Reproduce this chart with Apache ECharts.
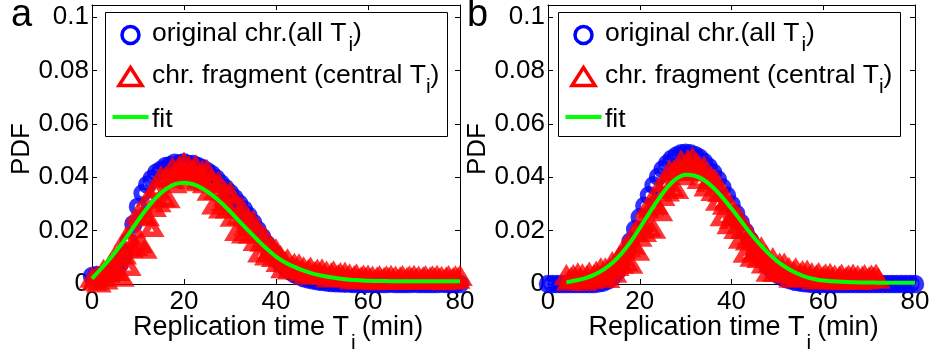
<!DOCTYPE html>
<html>
<head>
<meta charset="utf-8">
<script src="https://cdn.jsdelivr.net/npm/echarts@6/dist/echarts.min.js"></script>
<style>
  html, body { margin: 0; padding: 0; background: #fff; }
  #chart { width: 935px; height: 354px; }
</style>
</head>
<body>
<div id="chart"></div>
<script>
// ---- axes ----
const X_MIN = 0, X_MAX = 80, X_STEP = 20;
const Y_MIN = 0, Y_MAX = 0.1046, Y_STEP = 0.02;
const xTickLabels = ['0', '20', '40', '60', '80'];
const yTickLabels = ['0', '0.02', '0.04', '0.06', '0.08', '0.1'];

// ---- panel a ----
// original chromosome, all replication times (sampled every 1 min from 0)
const origA_t0 = 0, origA_dt = 1;
const origA = [
  0.0030, 0.0034, 0.0030, 0.0036, 0.0045, 0.0055, 0.0075, 0.0110, 0.0160, 0.0225,
  0.0290, 0.0340, 0.0372, 0.0395, 0.0418, 0.0428, 0.0442, 0.0445, 0.0455, 0.0452,
  0.0456, 0.0450, 0.0450, 0.0442, 0.0435, 0.0424, 0.0412, 0.0396, 0.0378, 0.0360,
  0.0342, 0.0322, 0.0302, 0.0280, 0.0257, 0.0230, 0.0203, 0.0176, 0.0150, 0.0125,
  0.0100, 0.0078, 0.0062, 0.0048, 0.0037, 0.0029, 0.0022, 0.0017, 0.0013, 0.0010,
  0.0008, 0.0006, 0.0004, 0.0003, 0.0002, 0.0001, 0.0001, 0.0000, 0.0001, 0.0000,
  0.0000, 0.0001, 0.0000, 0.0000, 0.0000, 0.0001, 0.0000, 0.0000, 0.0000, 0.0000,
  0.0001, 0.0000, 0.0000, 0.0000, 0.0000, 0.0000, 0.0001, 0.0000, 0.0000, 0.0000,
  0.0000
];
// chromosome fragment, central replication times (every 0.5 min from 0)
const fragA_t0 = 0, fragA_dt = 0.5;
const fragA = [
  0.0020, 0.0008, 0.0024, 0.0002, 0.0025, 0.0048, 0.0013, 0.0038, 0.0069, 0.0042,
  0.0100, 0.0045, 0.0108, 0.0023, 0.0107, 0.0173, 0.0064, 0.0132, 0.0204, 0.0139,
  0.0260, 0.0149, 0.0254, 0.0128, 0.0250, 0.0327, 0.0210, 0.0285, 0.0357, 0.0303,
  0.0400, 0.0321, 0.0396, 0.0318, 0.0393, 0.0433, 0.0374, 0.0408, 0.0438, 0.0411,
  0.0450, 0.0409, 0.0438, 0.0389, 0.0422, 0.0440, 0.0381, 0.0398, 0.0420, 0.0374,
  0.0422, 0.0346, 0.0389, 0.0294, 0.0349, 0.0378, 0.0279, 0.0309, 0.0340, 0.0279,
  0.0340, 0.0248, 0.0297, 0.0195, 0.0254, 0.0283, 0.0186, 0.0214, 0.0240, 0.0185,
  0.0232, 0.0157, 0.0192, 0.0114, 0.0155, 0.0173, 0.0103, 0.0120, 0.0135, 0.0097,
  0.0125, 0.0079, 0.0100, 0.0055, 0.0078, 0.0088, 0.0051, 0.0062, 0.0071, 0.0052,
  0.0069, 0.0044, 0.0058, 0.0032, 0.0048, 0.0057, 0.0032, 0.0041, 0.0049, 0.0036,
  0.0050, 0.0031, 0.0042, 0.0021, 0.0035, 0.0043, 0.0022, 0.0029, 0.0036, 0.0025,
  0.0038, 0.0021, 0.0031, 0.0013, 0.0025, 0.0031, 0.0014, 0.0020, 0.0027, 0.0017,
  0.0027, 0.0015, 0.0023, 0.0010, 0.0020, 0.0025, 0.0012, 0.0018, 0.0024, 0.0016,
  0.0026, 0.0015, 0.0023, 0.0011, 0.0020, 0.0025, 0.0012, 0.0018, 0.0024, 0.0016,
  0.0026, 0.0015, 0.0023, 0.0012, 0.0020, 0.0025, 0.0012, 0.0019, 0.0024, 0.0016,
  0.0026, 0.0015, 0.0022, 0.0010, 0.0020, 0.0025, 0.0012, 0.0017, 0.0024, 0.0016,
  0.0026
];
// fitted curve (every 2 min from 0)
const fitA_t0 = 0, fitA_dt = 2;
const fitA = [
  0.0020, 0.0058, 0.0097, 0.0140, 0.0188, 0.0238, 0.0285, 0.0325, 0.0355, 0.0374,
  0.0380, 0.0374, 0.0358, 0.0335, 0.0306, 0.0272, 0.0236, 0.0200, 0.0165, 0.0132,
  0.0103, 0.0081, 0.0064, 0.0050, 0.0039, 0.0031, 0.0025, 0.0020, 0.0016, 0.0014,
  0.0012, 0.0011, 0.0011, 0.0010, 0.0010, 0.0010, 0.0010, 0.0010, 0.0010, 0.0010,
  0.0010
];

// ---- panel b ----
const origB_t0 = 0, origB_dt = 1;
const origB = [
  0.0000, 0.0000, 0.0000, 0.0000, 0.0000, 0.0000, 0.0000, 0.0000, 0.0000, 0.0000,
  0.0000, 0.0002, 0.0005, 0.0012, 0.0025, 0.0045, 0.0075, 0.0115, 0.0160, 0.0205,
  0.0250, 0.0293, 0.0333, 0.0370, 0.0402, 0.0430, 0.0452, 0.0470, 0.0482, 0.0490,
  0.0492, 0.0490, 0.0484, 0.0474, 0.0458, 0.0440, 0.0418, 0.0393, 0.0363, 0.0332,
  0.0298, 0.0264, 0.0230, 0.0197, 0.0165, 0.0136, 0.0110, 0.0087, 0.0067, 0.0050,
  0.0036, 0.0026, 0.0018, 0.0012, 0.0008, 0.0005, 0.0003, 0.0001, 0.0000, 0.0000,
  0.0000, 0.0000, 0.0000, 0.0000, 0.0000, 0.0000, 0.0000, 0.0000, 0.0000, 0.0000,
  0.0000, 0.0000, 0.0000, 0.0000, 0.0000, 0.0000, 0.0000, 0.0000, 0.0000, 0.0000,
  0.0000
];
const fragB_t0 = 4, fragB_dt = 0.5;
const fragB = [
  0.0029, 0.0008, 0.0018, 0.0029, 0.0017, 0.0035, 0.0015, 0.0031, 0.0007, 0.0026,
  0.0038, 0.0014, 0.0028, 0.0042, 0.0027, 0.0054, 0.0028, 0.0054, 0.0019, 0.0053,
  0.0077, 0.0038, 0.0064, 0.0095, 0.0072, 0.0128, 0.0081, 0.0136, 0.0072, 0.0143,
  0.0193, 0.0121, 0.0173, 0.0229, 0.0191, 0.0279, 0.0209, 0.0288, 0.0203, 0.0293,
  0.0351, 0.0269, 0.0326, 0.0380, 0.0343, 0.0421, 0.0359, 0.0421, 0.0352, 0.0421,
  0.0459, 0.0404, 0.0435, 0.0461, 0.0434, 0.0469, 0.0423, 0.0448, 0.0390, 0.0419,
  0.0436, 0.0362, 0.0380, 0.0397, 0.0345, 0.0386, 0.0308, 0.0341, 0.0250, 0.0293,
  0.0313, 0.0220, 0.0240, 0.0261, 0.0202, 0.0249, 0.0166, 0.0202, 0.0113, 0.0159,
  0.0181, 0.0098, 0.0119, 0.0140, 0.0094, 0.0133, 0.0073, 0.0102, 0.0042, 0.0076,
  0.0092, 0.0041, 0.0057, 0.0072, 0.0046, 0.0072, 0.0036, 0.0056, 0.0020, 0.0043,
  0.0054, 0.0022, 0.0034, 0.0044, 0.0027, 0.0045, 0.0022, 0.0036, 0.0012, 0.0028,
  0.0036, 0.0015, 0.0023, 0.0031, 0.0020, 0.0033, 0.0017, 0.0027, 0.0010, 0.0023,
  0.0030, 0.0013, 0.0020, 0.0027, 0.0018, 0.0030, 0.0016, 0.0026, 0.0011, 0.0022,
  0.0029, 0.0013, 0.0020, 0.0027, 0.0018, 0.0030, 0.0016
];
const fitB_t0 = 4, fitB_dt = 2;
const fitB = [
  0.0006, 0.0013, 0.0021, 0.0034, 0.0053, 0.0079, 0.0114, 0.0158, 0.0210, 0.0264,
  0.0316, 0.0362, 0.0395, 0.0410, 0.0406, 0.0390, 0.0362, 0.0325, 0.0283, 0.0238,
  0.0193, 0.0152, 0.0116, 0.0085, 0.0061, 0.0042, 0.0028, 0.0019, 0.0013, 0.0010,
  0.0008, 0.0007, 0.0006, 0.0006, 0.0005, 0.0005, 0.0005, 0.0005, 0.0005
];

// ---- legend / titles ----
const legendOrig = ['original chr.(all T', 'i', ')'];
const legendFrag = ['chr. fragment (central T', 'i', ')'];
const legendFit = 'fit';
const xTitle = ['Replication time T', 'i', '(min)'];
const yTitle = 'PDF';
const panelLetters = ['a', 'b'];

const BLUE = '#0000ff', RED = '#ff0000', GREEN = '#00ff00';
const FONT_FAMILY = '"Liberation Sans", Arial, Helvetica, sans-serif';

function series(t0, dt, ys) {
  return ys.map((y, i) => [t0 + i * dt, y]);
}

const measureCtx = document.createElement('canvas').getContext('2d');
function textW(s, size) {
  measureCtx.font = size + 'px ' + FONT_FAMILY;
  return measureCtx.measureText(s).width;
}
// text placed by its alphabetic baseline
function textEl(s, x, baseline, size, extra) {
  const el = {
    type: 'text', silent: true, z: 20,
    x: x, y: baseline - 0.33 * size,
    style: {
      text: s, font: size + 'px ' + FONT_FAMILY, fill: '#000',
      align: 'left', verticalAlign: 'middle',
      textAlign: 'left', textVerticalAlign: 'middle'
    }
  };
  return Object.assign(el, extra || {});
}
// main text + subscript + trailing text
function subscripted(parts, x, baseline, size, subSize, drop, gapBefore, gapAfter) {
  const w0 = textW(parts[0], size), w1 = textW(parts[1], subSize);
  return [
    textEl(parts[0], x, baseline, size),
    textEl(parts[1], x + w0 + gapBefore, baseline + drop, subSize),
    textEl(parts[2], x + w0 + gapBefore + w1 + gapAfter, baseline, size)
  ];
}
function subscriptedWidth(parts, size, subSize, gapBefore, gapAfter) {
  return textW(parts[0], size) + gapBefore + textW(parts[1], subSize) + gapAfter + textW(parts[2], size);
}

const panels = [
  { left: 92, width: 368, legendLeft: 105,
    orig: series(origA_t0, origA_dt, origA), frag: series(fragA_t0, fragA_dt, fragA), fit: series(fitA_t0, fitA_dt, fitA) },
  { left: 548, width: 367, legendLeft: 558,
    orig: series(origB_t0, origB_dt, origB), frag: series(fragB_t0, fragB_dt, fragB), fit: series(fitB_t0, fitB_dt, fitB) }
];
const GRID_TOP = 5, GRID_H = 279;

const axisLineStyle = { show: true, onZero: false, lineStyle: { color: '#000', width: 1 } };
const tickStyle = { show: true, inside: true, length: 5, lineStyle: { color: '#000', width: 1 } };

const grids = [], xAxes = [], yAxes = [], allSeries = [], graphics = [];

panels.forEach((p, i) => {
  grids.push({ left: p.left, top: GRID_TOP, width: p.width, height: GRID_H, containLabel: false });
  const xBase = { type: 'value', gridIndex: i, min: X_MIN, max: X_MAX, interval: X_STEP,
    axisLine: axisLineStyle, axisTick: tickStyle, splitLine: { show: false } };
  xAxes.push(Object.assign({}, xBase, { position: 'bottom',
    axisLabel: { show: true, margin: 5, color: '#000', fontSize: 26, fontFamily: FONT_FAMILY,
      formatter: v => xTickLabels[Math.round(v / X_STEP)] } }));
  xAxes.push(Object.assign({}, xBase, { position: 'top', axisLabel: { show: false } }));
  const yBase = { type: 'value', gridIndex: i, min: Y_MIN, max: Y_MAX, interval: Y_STEP,
    axisLine: axisLineStyle, axisTick: tickStyle, splitLine: { show: false } };
  yAxes.push(Object.assign({}, yBase, { position: 'left',
    axisLabel: { show: true, margin: 3, color: '#000', fontSize: 26, fontFamily: FONT_FAMILY,
      formatter: v => {
        const k = Math.round(v / Y_STEP);
        return (Math.abs(v - k * Y_STEP) < 1e-9 && yTickLabels[k] !== undefined) ? yTickLabels[k] : '';
      } } }));
  yAxes.push(Object.assign({}, yBase, { position: 'right', axisLabel: { show: false } }));

  const xi = i * 2, yi = i * 2;
  allSeries.push({
    name: 'original chr.', type: 'scatter', xAxisIndex: xi, yAxisIndex: yi, data: p.orig,
    symbol: 'circle', symbolSize: 12.5, clip: false, silent: true, z: 2,
    itemStyle: { color: 'rgba(0,0,0,0)', borderColor: BLUE, borderWidth: 6 }
  });
  allSeries.push({
    name: 'chr. fragment', type: 'scatter', xAxisIndex: xi, yAxisIndex: yi, data: p.frag,
    symbol: 'triangle', symbolSize: [15, 12.5], clip: false, silent: true, z: 3,
    itemStyle: { color: 'rgba(0,0,0,0)', borderColor: RED, borderWidth: 6 }
  });
  allSeries.push({
    name: 'fit', type: 'line', xAxisIndex: xi, yAxisIndex: yi, data: p.fit,
    showSymbol: false, smooth: 0.35, clip: false, silent: true, z: 4,
    lineStyle: { color: GREEN, width: 4 }
  });

  // legend box
  const L = p.legendLeft;
  graphics.push({ type: 'rect', silent: true, z: 10,
    shape: { x: L + 0.5, y: 12.5, width: 342, height: 124 },
    style: { fill: '#fff', stroke: '#000', lineWidth: 1 } });
  const cx = L + 25.5;
  graphics.push({ type: 'circle', silent: true, z: 11,
    shape: { cx: cx, cy: 35, r: 8.5 },
    style: { fill: 'none', stroke: BLUE, lineWidth: 3.5 } });
  graphics.push({ type: 'polygon', silent: true, z: 11,
    shape: { points: [[cx, 67.5], [cx - 11.5, 85.5], [cx + 11.5, 85.5]] },
    style: { fill: 'none', stroke: RED, lineWidth: 3.5, lineJoin: 'miter' } });
  graphics.push({ type: 'line', silent: true, z: 11,
    shape: { x1: L + 7.5, y1: 117, x2: L + 43.5, y2: 117 },
    style: { stroke: GREEN, lineWidth: 4 } });
  const tx = L + 47;
  graphics.push(...subscripted(legendOrig, tx, 42, 26.5, 21, 10, 2, 0));
  graphics.push(...subscripted(legendFrag, tx, 84.5, 26.5, 21, 10, 0, 0));
  graphics.push(textEl(legendFit, tx, 128.5, 26.5));

  // x-axis title, centred under the plot
  const tw = subscriptedWidth(xTitle, 27, 21, 2, 6);
  const tStart = p.left + p.width / 2 + 2 - tw / 2;
  graphics.push(...subscripted(xTitle, tStart, 336, 27, 21, 14, 2, 6));

  // y-axis title, rotated
  graphics.push({ type: 'text', silent: true, z: 20, x: p.left - 70, y: 149, rotation: Math.PI / 2,
    style: { text: yTitle, font: '26px ' + FONT_FAMILY, fill: '#000',
      align: 'center', verticalAlign: 'middle', textAlign: 'center', textVerticalAlign: 'middle' } });

  // panel letter
  graphics.push(textEl(panelLetters[i], p.left - 81, 28.5, 38));
});

const chart = echarts.init(document.getElementById('chart'), null, { renderer: 'canvas' });
chart.setOption({
  animation: false,
  backgroundColor: '#fff',
  grid: grids,
  xAxis: xAxes,
  yAxis: yAxes,
  series: allSeries,
  graphic: { elements: graphics }
});
</script>
</body>
</html>
